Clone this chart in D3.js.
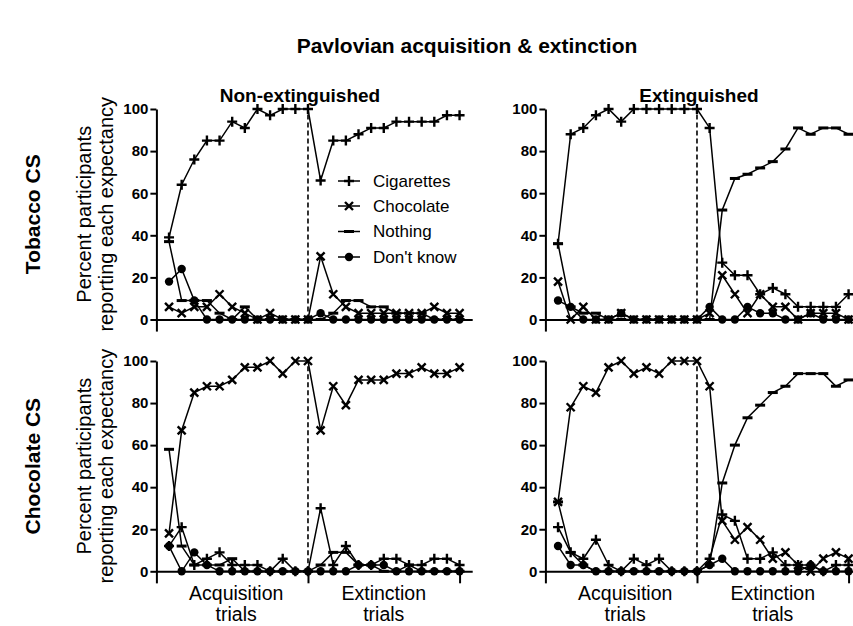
<!DOCTYPE html>
<html>
<head>
<meta charset="utf-8">
<script src="https://cdn.jsdelivr.net/npm/d3@7/dist/d3.min.js"></script>
<style>
  html, body { margin: 0; padding: 0; background: #fff; }
  svg { display: block; font-family: "Liberation Sans", Arial, Helvetica, sans-serif; }
</style>
</head>
<body>
<svg id="chart" width="853" height="626"></svg>
<script>
// ---------- data ----------
const trials = d3.range(24);               // 12 acquisition + 12 extinction trials
const yTicks = [0, 20, 40, 60, 80, 100];
const seriesNames = ["Cigarettes", "Chocolate", "Nothing", "Don't know"];
const columnTitles = ["Non-extinguished", "Extinguished"];
const rowTitles = ["Tobacco CS", "Chocolate CS"];
const phaseLabels = [["Acquisition", "trials"], ["Extinction", "trials"]];

// Tobacco CS, Non-extinguished
const tobNonExtCigarettes = [39, 64, 76, 85, 85, 94, 91, 100, 97, 100, 100, 100, 66, 85, 85, 88, 91, 91, 94, 94, 94, 94, 97, 97];
const tobNonExtChocolate  = [6, 3, 6, 6, 12, 6, 3, 0, 3, 0, 0, 0, 30, 12, 6, 3, 3, 3, 3, 3, 3, 6, 3, 3];
const tobNonExtNothing    = [37, 9, 9, 9, 3, 0, 6, 0, 0, 0, 0, 0, 0, 3, 9, 9, 6, 6, 3, 3, 3, 0, 0, 0];
const tobNonExtDontKnow   = [18, 24, 9, 0, 0, 0, 0, 0, 0, 0, 0, 0, 3, 0, 0, 0, 0, 0, 0, 0, 0, 0, 0, 0];

// Tobacco CS, Extinguished
const tobExtCigarettes = [36, 88, 91, 97, 100, 94, 100, 100, 100, 100, 100, 100, 91, 27, 21, 21, 12, 15, 12, 6, 6, 6, 6, 12];
const tobExtChocolate  = [18, 0, 6, 0, 0, 3, 0, 0, 0, 0, 0, 0, 3, 21, 12, 3, 12, 6, 6, 0, 3, 3, 3, 0];
const tobExtNothing    = [36, 6, 3, 3, 0, 0, 0, 0, 0, 0, 0, 0, 0, 52, 67, 69, 72, 75, 81, 91, 88, 91, 91, 88];
const tobExtDontKnow   = [9, 6, 0, 0, 0, 3, 0, 0, 0, 0, 0, 0, 6, 0, 0, 6, 3, 3, 0, 0, 3, 0, 0, 0];

// Chocolate CS, Non-extinguished
const chocNonExtCigarettes = [12, 21, 3, 6, 9, 3, 3, 3, 0, 6, 0, 0, 30, 3, 12, 3, 3, 6, 6, 3, 3, 6, 6, 3];
const chocNonExtChocolate  = [18, 67, 85, 88, 88, 91, 97, 97, 100, 94, 100, 100, 67, 88, 79, 91, 91, 91, 94, 94, 97, 94, 94, 97];
const chocNonExtNothing    = [58, 12, 3, 3, 3, 6, 0, 0, 0, 0, 0, 0, 3, 9, 9, 3, 3, 0, 0, 3, 0, 0, 0, 0];
const chocNonExtDontKnow   = [12, 0, 9, 3, 0, 0, 0, 0, 0, 0, 0, 0, 0, 0, 0, 3, 3, 3, 0, 0, 0, 0, 0, 0];

// Chocolate CS, Extinguished
const chocExtCigarettes = [21, 9, 6, 15, 3, 0, 6, 3, 6, 0, 0, 0, 6, 27, 24, 6, 6, 9, 3, 3, 3, 0, 3, 3];
const chocExtChocolate  = [33, 78, 88, 85, 97, 100, 94, 97, 94, 100, 100, 100, 88, 24, 15, 21, 15, 6, 9, 3, 0, 6, 9, 6];
const chocExtNothing    = [33, 9, 3, 0, 0, 0, 0, 0, 0, 0, 0, 0, 3, 42, 60, 73, 79, 85, 88, 94, 94, 94, 88, 91];
const chocExtDontKnow   = [12, 3, 3, 0, 0, 0, 0, 0, 0, 0, 0, 0, 3, 6, 0, 0, 0, 0, 0, 0, 3, 0, 0, 0];

// table built from the arrays above
const panels = [
  { row: 0, col: 0, series: [tobNonExtCigarettes, tobNonExtChocolate, tobNonExtNothing, tobNonExtDontKnow] },
  { row: 0, col: 1, series: [tobExtCigarettes, tobExtChocolate, tobExtNothing, tobExtDontKnow] },
  { row: 1, col: 0, series: [chocNonExtCigarettes, chocNonExtChocolate, chocNonExtNothing, chocNonExtDontKnow] },
  { row: 1, col: 1, series: [chocExtCigarettes, chocExtChocolate, chocExtNothing, chocExtDontKnow] }
];

// ---------- layout ----------
const svg = d3.select("#chart");
const FONT = '"Liberation Sans", Arial, Helvetica, sans-serif';
const colX = [[156.4, 472.2], [545.4, 861.2]];
const rowY = [[319.5, 109], [571.3, 361]];
const lastAcq = 11;

const markerPaths = [
  "M-5,0H5M0,-5V5",          // plus
  "M-4,-4L4,4M-4,4L4,-4",    // cross
  "M-5,0H5",                 // dash
  null                       // circle
];

function drawMarker(g, k, x, y) {
  if (k === 3) {
    g.append("circle").attr("cx", x).attr("cy", y).attr("r", 4.2).attr("fill", "#000");
  } else {
    g.append("path").attr("d", markerPaths[k])
      .attr("transform", `translate(${x},${y})`)
      .attr("fill", "none").attr("stroke", "#000")
      .attr("stroke-width", k === 2 ? 3 : 2.4);
  }
}

// title
svg.append("text").attr("x", 467).attr("y", 52.5).attr("text-anchor", "middle")
  .attr("font-size", 21).attr("font-weight", "bold").text("Pavlovian acquisition & extinction");

columnTitles.forEach((t, c) => {
  svg.append("text").attr("x", c === 0 ? 300 : 699).attr("y", 102).attr("text-anchor", "middle")
    .attr("font-size", 19).attr("font-weight", "bold").text(t);
});

rowTitles.forEach((t, r) => {
  const cy = (rowY[r][0] + rowY[r][1]) / 2;
  svg.append("text").attr("transform", `translate(40,${cy}) rotate(-90)`).attr("text-anchor", "middle")
    .attr("font-size", 21).attr("font-weight", "bold").text(t);
  const yl = svg.append("text").attr("transform", `translate(0,${cy}) rotate(-90)`)
    .attr("text-anchor", "middle").attr("font-size", 20);
  yl.append("tspan").attr("x", 0).attr("y", 91).text("Percent participants");
  yl.append("tspan").attr("x", 0).attr("y", 113).text("reporting each expectancy");
});

panels.forEach(p => {
  const x = d3.scaleLinear().domain([-1, 24]).range(colX[p.col]);
  const y = d3.scaleLinear().domain([0, 100]).range(rowY[p.row]);
  const yAxisScale = d3.scaleLinear().domain([-5.5, 100]).range([y(-5.5), y(100)]);
  const g = svg.append("g");

  // y axis
  const ya = g.append("g").attr("transform", `translate(${x(-1)},0)`)
    .call(d3.axisLeft(yAxisScale).tickValues(yTicks).tickSize(6).tickSizeOuter(0).tickPadding(2));
  ya.select(".domain").attr("stroke-width", 2);
  ya.selectAll(".tick line").attr("stroke-width", 2);
  ya.selectAll(".tick text").attr("font-size", 15).attr("font-weight", "bold")
    .attr("font-family", FONT).attr("fill", "#000");

  // x axis at y = 0
  const xa = g.append("g").attr("transform", `translate(0,${y(0)})`)
    .call(d3.axisBottom(x).tickValues(p.row === 1 ? [lastAcq, 23] : []).tickSize(12).tickSizeOuter(0).tickFormat(""));
  xa.select(".domain").attr("stroke-width", 2);
  xa.selectAll(".tick line").attr("stroke-width", 2);

  // dashed separator
  g.append("line").attr("x1", x(lastAcq)).attr("x2", x(lastAcq))
    .attr("y1", y(0)).attr("y2", y(100))
    .attr("stroke", "#000").attr("stroke-width", 1.6).attr("stroke-dasharray", "5,3");

  // series
  const line = d3.line().x((d, i) => x(trials[i])).y(d => y(d));
  p.series.forEach((vals, k) => {
    g.append("path").datum(vals).attr("d", line)
      .attr("fill", "none").attr("stroke", "#000").attr("stroke-width", 1.5);
  });
  p.series.forEach((vals, k) => {
    vals.forEach((v, i) => drawMarker(g, k, x(trials[i]), y(v)));
  });

  // phase labels
  if (p.row === 1) {
    const centers = [(x(-1) + x(lastAcq)) / 2 + 4, (x(lastAcq) + x(23)) / 2];
    phaseLabels.forEach((lines, j) => {
      const t = g.append("text").attr("text-anchor", "middle").attr("font-size", 19.5);
      lines.forEach((s, li) => t.append("tspan").attr("x", centers[j]).attr("y", 600 + li * 20.5).text(s));
    });
  }
});

// legend (inside top-left panel)
const legendY = [181, 206, 231.5, 257];
seriesNames.forEach((name, k) => {
  const lg = svg.append("g");
  lg.append("line").attr("x1", 338).attr("x2", 360).attr("y1", legendY[k]).attr("y2", legendY[k])
    .attr("stroke", "#000").attr("stroke-width", 1.5);
  drawMarker(lg, k, 349, legendY[k]);
  lg.append("text").attr("x", 373).attr("y", legendY[k]).attr("dy", "0.35em")
    .attr("font-size", 17).text(name);
});
</script>
</body>
</html>
